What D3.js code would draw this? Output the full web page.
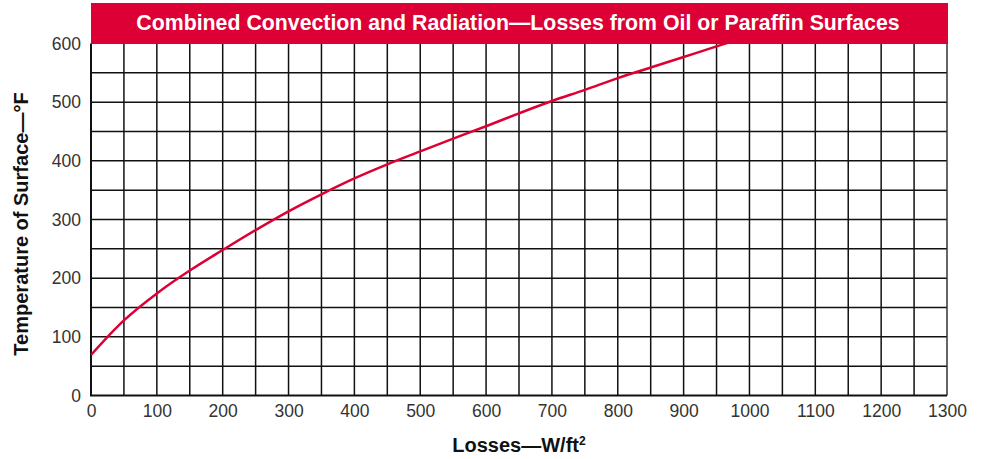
<!DOCTYPE html>
<html><head><meta charset="utf-8">
<script src="https://cdn.jsdelivr.net/npm/d3@7/dist/d3.min.js"></script>
<style>
body{margin:0;background:#fff;}
svg text{font-family:"Liberation Sans",Arial,Helvetica,sans-serif;}
</style></head>
<body><svg id="c" width="984" height="459"></svg>
<script>
const title = "Combined Convection and Radiation\u2014Losses from Oil or Paraffin Surfaces";
const xTitle = "Losses\u2014W/ft";
const yTitle = "Temperature of Surface\u2014\u00b0F";
const xTicks = [0,100,200,300,400,500,600,700,800,900,1000,1100,1200,1300];
const yTicks = [0,100,200,300,400,500,600];
const lossW = [0,50,100,150,200,250,300,350,400,450,500,550,600,650,700,750,800,850,900,950,975];
const tempF = [69,128,174,213,248,282,314,343,370,394,416,438,459,481,502,521,541,559,577,595,604];

const svg = d3.select("#c");
const L=91, R=947, T=43.5, B=395.5;
const x = d3.scaleLinear().domain([0,1300]).range([L,R]);
const y = d3.scaleLinear().domain([0,600]).range([B,T]);
const red = "#dc0035";

// grid
const g = svg.append("g");
g.selectAll("line.v").data(d3.range(50,1300,50)).join("line")
  .attr("x1",d=>x(d)).attr("x2",d=>x(d)).attr("y1",T).attr("y2",B)
  .attr("stroke","#111").attr("stroke-width",1.5);
g.selectAll("line.h").data(d3.range(50,600,50)).join("line")
  .attr("x1",L).attr("x2",R).attr("y1",d=>y(d)).attr("y2",d=>y(d))
  .attr("stroke","#111").attr("stroke-width",1.5);
g.append("line").attr("x1",R).attr("x2",R).attr("y1",T).attr("y2",B).attr("stroke","#333").attr("stroke-width",1.5);

// axes
const fmt = d3.format("d");
const xa = svg.append("g").attr("transform",`translate(0,${B})`)
  .call(d3.axisBottom(x).tickValues(xTicks).tickFormat(fmt).tickSize(0).tickPadding(9));
const ya = svg.append("g").attr("transform",`translate(${L},0)`)
  .call(d3.axisLeft(y).tickValues(yTicks).tickFormat(fmt).tickSize(0).tickPadding(10));
[xa,ya].forEach(a=>{
  a.select(".domain").attr("stroke","#111").attr("stroke-width",2);
  a.selectAll("text").attr("fill","#333").attr("font-size",17.5)
   .attr("font-family","'Liberation Sans',Arial,sans-serif");
});
ya.select(".domain").attr("d",`M0,${T}V${B}`);
xa.select(".domain").attr("d",`M${L-1},0H${R}`);

// curve
svg.append("clipPath").attr("id","clip").append("rect")
  .attr("x",L).attr("y",T).attr("width",R-L).attr("height",B-T);
const line = d3.line().x((d,i)=>x(lossW[i])).y(d=>y(d)).curve(d3.curveCatmullRom.alpha(0.5));
svg.append("path").attr("d",line(tempF)).attr("fill","none")
  .attr("stroke",red).attr("stroke-width",2.5).attr("clip-path","url(#clip)");

// title bar
svg.append("rect").attr("x",L).attr("y",3).attr("width",R-L+1).attr("height",T-3+0.5).attr("fill",red);
svg.append("text").attr("x",(L+R)/2-1).attr("y",30).attr("text-anchor","middle")
  .attr("fill","#fff").attr("font-weight","bold").attr("font-size",21.3).text(title);

// axis titles
const xt = svg.append("text").attr("x",(L+R)/2).attr("y",452).attr("text-anchor","middle")
  .attr("font-weight","bold").attr("font-size",20).attr("fill","#111").text(xTitle);
xt.append("tspan").attr("font-size",12).attr("dy",-7).text("2");
svg.append("text").attr("transform",`translate(28,224) rotate(-90)`)
  .attr("text-anchor","middle").attr("font-weight","bold").attr("font-size",20)
  .attr("fill","#111").text(yTitle);
</script></body></html>
